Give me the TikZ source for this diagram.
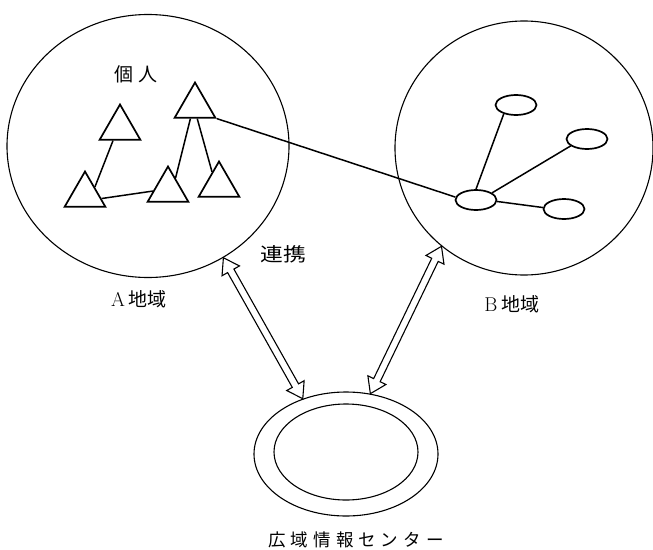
\documentclass[tikz,border=0pt]{standalone}
\usepackage{fontspec}
\usepackage{graphicx}
\newfontfamily\jpfont{Noto Sans CJK JP}
\usetikzlibrary{shapes.geometric,calc}
\newcommand\mkHollowArrow[2]{%
  \draw[hollow]
    (#1)
    -- ($(#1)!15pt!(#2)!10pt!90:(#2)$)
    -- ($(#1)!15pt!(#2)!3.6pt!90:(#2)$)
    -- ($(#2)!15pt!(#1)!3.6pt!-90:(#1)$)
    -- ($(#2)!15pt!(#1)!10pt!-90:(#1)$)
    -- (#2)
    -- ($(#2)!15pt!(#1)!10pt!90:(#1)$)
    -- ($(#2)!15pt!(#1)!3.6pt!90:(#1)$)
    -- ($(#1)!15pt!(#2)!3.6pt!-90:(#2)$)
    -- ($(#1)!15pt!(#2)!10pt!-90:(#2)$)
    -- cycle;}
\begin{document}
\begin{tikzpicture}[x=1pt,y=-1pt,
  region/.style={draw, ellipse, line width=1.1pt, inner sep=0pt},
  person/.style={draw, regular polygon, regular polygon sides=3, minimum size=47pt, inner sep=0pt, line width=1.7pt},
  unit/.style={draw, ellipse, minimum width=41pt, minimum height=20pt, inner sep=0pt, line width=1.7pt},
  link/.style={line width=1.5pt},
  hollow/.style={line width=1.1pt, line join=miter},
  lbl/.style={font=\jpfont\fontsize{19}{19}\selectfont, inner sep=0pt},
  lblsmall/.style={font=\jpfont\fontsize{17.5}{17.5}\selectfont, inner sep=0pt}]
\useasboundingbox (0,0) rectangle (653,549);

% regions
\node[region, minimum width=282pt, minimum height=263pt] (A) at (148,146) {};
\node[region, minimum width=258pt, minimum height=254pt] (B) at (524,148) {};
\node[region, minimum width=184pt, minimum height=124pt] (C) at (346,454) {};
\node[region, minimum width=144pt, minimum height=96pt] (Ci) at (346,452) {};

% persons in A
\node[person] (T1) at (120,128) {};
\node[person] (T2) at (195,106) {};
\node[person] (T3) at (85,195) {};
\node[person] (T4) at (168,190) {};
\node[person] (T5) at (219,185) {};

% units in B
\node[unit] (hub) at (476,200) {};
\node[unit] (ut) at (516,105) {};
\node[unit] (ur) at (587,139) {};
\node[unit] (ub) at (564,209) {};

% links in A
\draw[link] (T1.-119) -- (T3.39);
\draw[link] (T3.-12) -- (T4.184);
\draw[link] (T2.-110) -- (T4.58);
\draw[link] (T2.-80) -- (T5.118);
% link A to B
\draw[link] (T2.corner 3) -- (hub.172);
% links in B
\draw[link] (hub.90) -- (ut.-144);
\draw[link] (hub.24) -- (ur.203);
\draw[link] (hub.-4) -- (ub.176);

% hollow double arrows
\coordinate (aS) at (A.-56);
\coordinate (aE) at (C.128);
\coordinate (bS) at (B.230);
\coordinate (bE) at (C.68);
\mkHollowArrow{aS}{aE}
\mkHollowArrow{bS}{bE}

% labels
\node[lbl] (lp) at (136,74) {個\hspace{5pt}人};
\node[lbl] (ll) at (283,254) {\scalebox{1.2}[1]{連携}};
\node[lbl] (la) at (139,299) {{\rmfamily\fontsize{20}{20}\selectfont A}\hspace{4pt}地域};
\node[lbl] (lb) at (512,304) {{\rmfamily\fontsize{20}{20}\selectfont B}\hspace{4pt}地域};
\node[lblsmall] (lc) at (356,540) {広\hspace{5pt}域\hspace{5pt}情\hspace{5pt}報\hspace{5pt}セ\hspace{5pt}ン\hspace{5pt}タ\hspace{5pt}ー};
\end{tikzpicture}
\end{document}
